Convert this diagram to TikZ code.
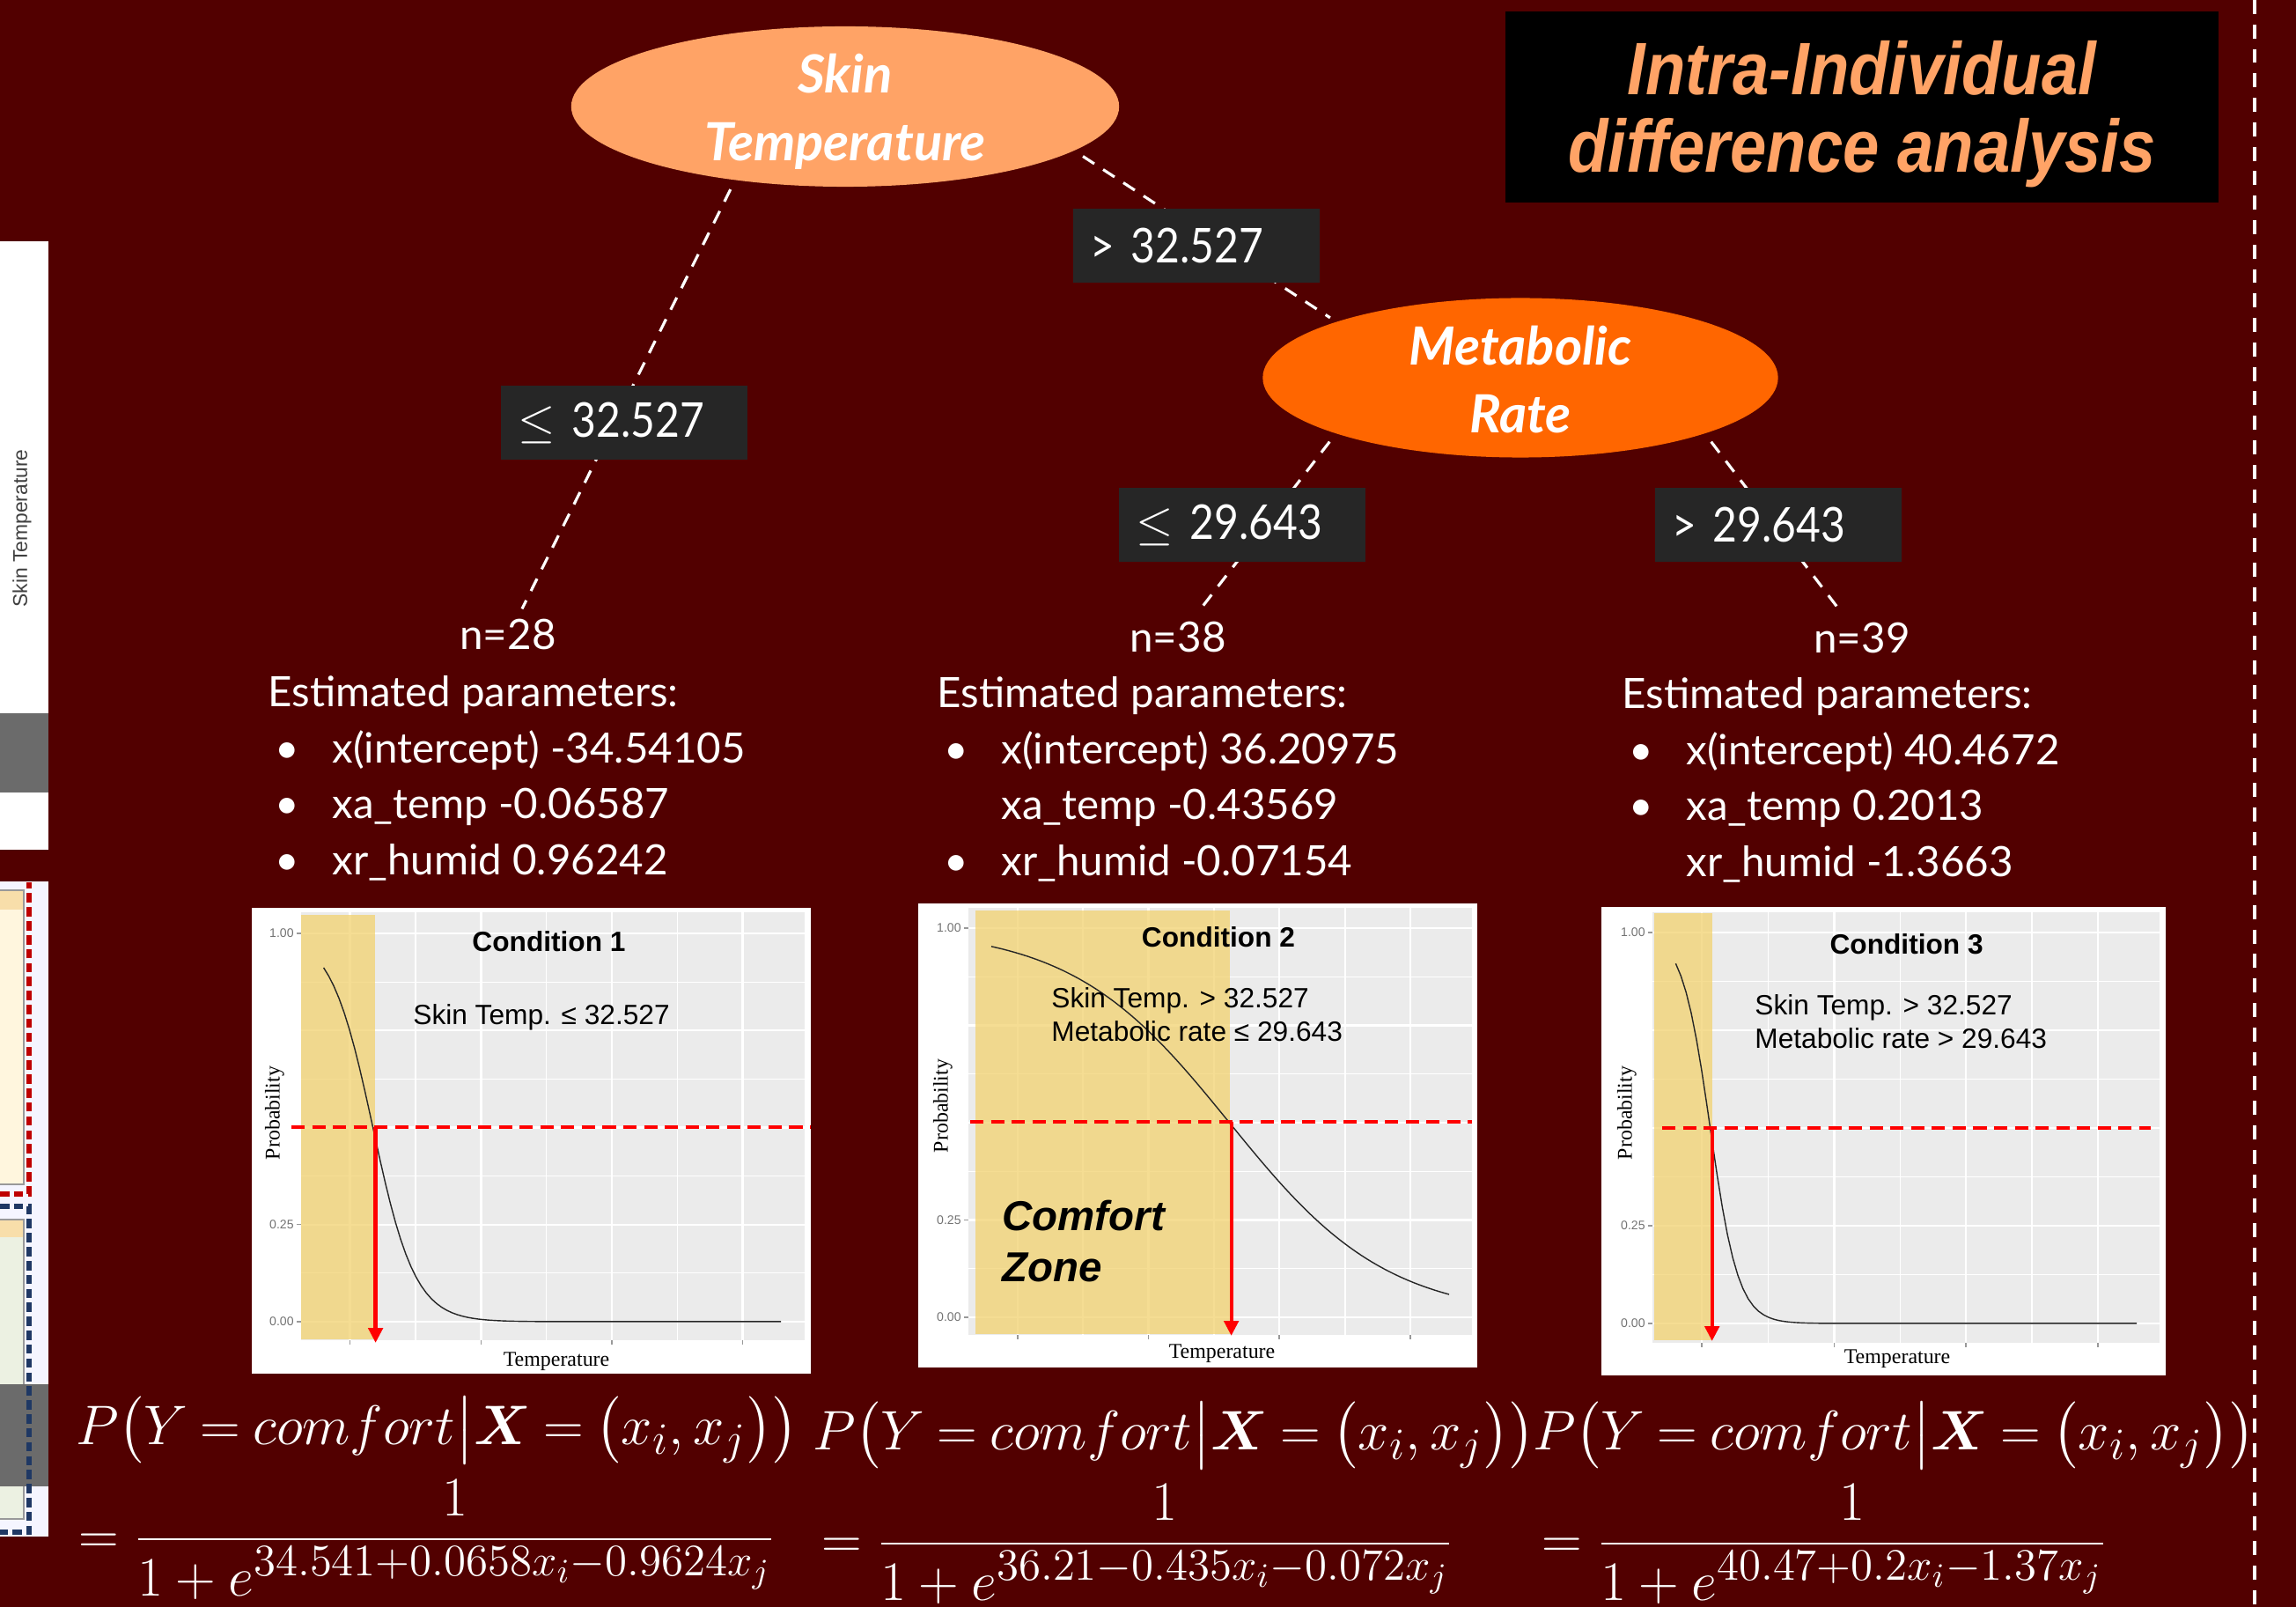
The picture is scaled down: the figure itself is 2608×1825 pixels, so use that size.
\RequirePackage{fix-cm}
\documentclass[tikz,border=0pt]{standalone}
\usepackage{amssymb,amsmath}
\usepackage[no-math]{fontspec}
\usepackage{tikz}
\usetikzlibrary{shapes.geometric}
\usetikzlibrary{arrows.meta}

\setmainfont{Lato}
\newfontfamily\cutfont[FakeStretch=0.88]{Lato}
\newfontfamily\titlefont[FakeStretch=0.88]{Liberation Sans}
\newfontfamily\chartfont{Liberation Sans}
\newfontfamily\axisfont{Liberation Serif}
\DeclareMathSizes{18}{18}{14.5}{11}

\definecolor{slidered}{RGB}{82,0,0}
\definecolor{skinorange}{RGB}{255,163,102}
\definecolor{metaborange}{RGB}{255,102,0}
\definecolor{cutgray}{RGB}{38,38,38}
\definecolor{panelgray}{RGB}{235,235,235}
\definecolor{zoneyellow}{RGB}{242,210,111}
\definecolor{cream}{RGB}{255,246,222}
\definecolor{tan}{RGB}{248,222,170}
\definecolor{sage}{RGB}{236,241,226}
\definecolor{navy}{RGB}{31,56,100}

\newcommand{\pbul}{\makebox[7.3mm][l]{\hspace{0.8mm}\textbullet}}
\newcommand{\pgap}{\makebox[7.3mm]{}}
\newcommand{\comfortprob}{$\thickmuskip=4mu P\bigl(Y = comfort\big|\boldsymbol{X} = \bigl(x_i, x_j\bigr)\bigr)$}

\begin{document}
\begin{tikzpicture}[x=0.01cm, y=-0.01cm, thick,
  split/.style={ellipse, inner sep=0pt},
  splittext/.style={text=white, align=center, font=\bfseries\itshape\fontsize{17}{22}\selectfont},
  cutbox/.style={rectangle, fill=cutgray, text=white, text width=24mm, align=left, inner xsep=2mm, minimum height=8.4mm, font=\cutfont\fontsize{15.5}{18}\selectfont},
  branch/.style={white, line width=0.9pt, dash pattern=on 4.4pt off 3.4pt, shorten <=3pt, shorten >=2pt},
  leaf/.style={text=white, inner sep=1pt, font=\fontsize{13.5}{16}\selectfont},
  params/.style={text=white, align=left, inner sep=0pt, anchor=north west, font=\fontsize{13.5}{18.1}\selectfont},
  gridmaj/.style={white, line width=0.7pt},
  gridmin/.style={white, line width=0.35pt},
  zone/.style={fill=zoneyellow, fill opacity=0.75},
  curve/.style={black!85, line width=0.4pt},
  cutoff/.style={red, line width=1.2pt, dash pattern=on 4.3pt off 2.4pt},
  drop/.style={red, line width=1.2pt, -{Triangle[width=4.6pt,length=4.8pt]}},
  cond/.style={font=\chartfont\bfseries\fontsize{9}{11}\selectfont},
  rule/.style={font=\chartfont\fontsize{9}{10.8}\selectfont, align=left, anchor=west, inner sep=0pt},
  comfort/.style={font=\chartfont\bfseries\itshape\fontsize{13.5}{16.5}\selectfont, align=left, anchor=west, inner sep=0pt},
  axislbl/.style={font=\axisfont\fontsize{6.8}{8}\selectfont, inner sep=0pt},
  ticklbl/.style={font=\chartfont\fontsize{4}{5}\selectfont, text=black!55, anchor=east, inner sep=0pt},
  tickmark/.style={black!40, line width=0.3pt},
  eqn/.style={text=white, inner sep=0pt, anchor=base west, font=\fontsize{18}{22}\selectfont},
]
\useasboundingbox (0,0) rectangle (2608,1825);
\fill[slidered] (0,0) rectangle (2608,1825);

% edge of the neighbouring slide
\fill[white] (0,274) rectangle (55,965);
\node[font=\chartfont\fontsize{6.5}{7}\selectfont, text=black!75, rotate=90, inner sep=0pt] (sideax) at (25,600) {Skin Temperature};
\fill[black!58] (0,810) rectangle (55,900);
\fill[white!96!blue] (0,1001) rectangle (55,1745);
\draw[black!40, fill=cream] (-2,1011) rectangle (27,1345);
\fill[tan] (-2,1012) rectangle (26,1033);
\draw[red!75!black, line width=1.6pt, dash pattern=on 3pt off 1.5pt] (0,1356) -- (33,1356) -- (33,1002);
\draw[black!40, fill=sage] (-2,1385) rectangle (27,1725);
\fill[tan] (-2,1386) rectangle (26,1405);
\fill[black!58] (0,1572) rectangle (55,1688);
\draw[navy, line width=1.6pt, dash pattern=on 3pt off 1.5pt] (0,1370) -- (33,1370) -- (33,1740) -- (0,1740);

% divider
\draw[white, line width=1pt, dash pattern=on 4.5pt off 3.4pt] (2561,0) -- (2561,1825);

% title
\node[fill=black, minimum width=81mm, minimum height=21.7mm, text=skinorange, align=center,
  font=\titlefont\bfseries\itshape\fontsize{24}{25}\selectfont] (title) at (2115,121.5) {\rule{0pt}{22pt}Intra-Individual\\difference analysis};

% tree
\node[split, fill=skinorange, minimum width=62.2mm, minimum height=18.2mm] (skin) at (960,121) {};
\node[splittext] (skinlbl) at (960,127) {Skin\\Temperature};
\node[split, fill=metaborange, minimum width=58.5mm, minimum height=18.1mm] (metab) at (1727,429) {};
\node[splittext] (metablbl) at (1727,431) {Metabolic\\Rate};

\node[leaf] (n28) at (577,720) {n=28};
\node[leaf] (n38) at (1338,723) {n=38};
\node[leaf] (n39) at (2115,724) {n=39};

\draw[branch] (skin.214) -- (n28.60);
\draw[branch] (skin.-11) -- (metab.163);
\draw[branch] (metab.197) -- (n38.50);
\draw[branch] (metab.-17) -- (n39.130);

\node[cutbox] (c1) at (1359,279) {> 32.527};
\node[cutbox] (c2) at (709,480) {$\leq$ 32.527};
\node[cutbox] (c3) at (1411,596) {$\leq$ 29.643};
\node[cutbox] (c4) at (2020,596) {> 29.643};

\node[params] (p28) at (303,766) {Estimated parameters:\\\pbul x(intercept) -34.54105\\\pbul xa\_temp -0.06587\\\pbul xr\_humid 0.96242};
\node[params] (p38) at (1063,767) {Estimated parameters:\\\pbul x(intercept) 36.20975\\\pgap xa\_temp -0.43569\\\pbul xr\_humid -0.07154};
\node[params] (p39) at (1841,768) {Estimated parameters:\\\pbul x(intercept) 40.4672\\\pbul xa\_temp 0.2013\\\pgap xr\_humid -1.3663};

% condition 1
\fill[white] (286,1031) rectangle (921,1560);
\fill[panelgray] (342,1036) rectangle (914,1522);
\foreach \v in {0.125,0.375,0.625,0.875} \draw[gridmin] (342,{1501-441*\v}) -- (914,{1501-441*\v});
\foreach \v in {0,0.25,0.5,0.75,1} \draw[gridmaj] (342,{1501-441*\v}) -- (914,{1501-441*\v});
\foreach \x in {472,620.6,769.6} \draw[gridmin] (\x,1036) -- (\x,1522);
\foreach \x in {397.5,546.5,695,843.7} {
  \draw[gridmaj] (\x,1036) -- (\x,1522);
  \draw[tickmark] (\x,1522) -- (\x,1527);
}
\foreach \v/\t [count=\i] in {0/0.00,0.25/0.25,1/1.00} {
  \draw[tickmark] (337,{1501-441*\v}) -- (342,{1501-441*\v});
  \node[ticklbl] (ya\i) at (335,{1501-441*\v}) {\t};
}
\fill[zone] (342,1039) rectangle (426,1521);
\draw[curve] plot[domain=367.6:887, samples=90] (\x,{1501-441/(1+exp(min((\x-423.6)/24,9)))});
\draw[cutoff] (331,1280) -- (921,1280);
\draw[drop] (426.6,1280) -- (426.6,1525);
\node[cond] (cond1) at (623.5,1069) {Condition 1};
\node[rule] (rule1) at (468,1155) {Skin Temp. ≤ 32.527};
\node[axislbl, rotate=90] (prob1) at (312,1264) {Probability};
\node[axislbl] (temp1) at (632,1546) {Temperature};

% condition 2
\fill[white] (1043,1026) rectangle (1678,1553);
\fill[panelgray] (1100,1031) rectangle (1672,1516);
\foreach \v in {0.125,0.375,0.625,0.875} \draw[gridmin] (1100,{1496-442*\v}) -- (1672,{1496-442*\v});
\foreach \v in {0,0.25,0.5,0.75,1} \draw[gridmaj] (1100,{1496-442*\v}) -- (1672,{1496-442*\v});
\foreach \x in {1230,1379,1528} \draw[gridmin] (\x,1031) -- (\x,1516);
\foreach \x in {1156,1304.5,1453,1602} {
  \draw[gridmaj] (\x,1031) -- (\x,1516);
  \draw[tickmark] (\x,1516) -- (\x,1521);
}
\foreach \v/\t [count=\i] in {0/0.00,0.25/0.25,1/1.00} {
  \draw[tickmark] (1095,{1496-442*\v}) -- (1100,{1496-442*\v});
  \node[ticklbl] (yb\i) at (1093,{1496-442*\v}) {\t};
}
\fill[zone] (1107.6,1034) rectangle (1396.5,1515);
\draw[curve] plot[domain=1126:1646, samples=90] (\x,{1496-442/(1+exp(min((\x-1396.5)/90,9)))});
\draw[cutoff] (1102,1274) -- (1672,1274);
\draw[drop] (1398.6,1274) -- (1398.6,1517);
\node[cond] (cond2) at (1384,1064) {Condition 2};
\node[rule] (rule2) at (1193,1152) {Skin Temp. > 32.527\\Metabolic rate ≤ 29.643};
\node[comfort] (zone2) at (1137,1410) {Comfort\\Zone};
\node[axislbl, rotate=90] (prob2) at (1071,1256) {Probability};
\node[axislbl] (temp2) at (1388,1537) {Temperature};

% condition 3
\fill[white] (1819,1030.5) rectangle (2460,1562);
\fill[panelgray] (1877,1036) rectangle (2453,1525);
\foreach \v in {0.125,0.375,0.625,0.875} \draw[gridmin] (1877,{1503-444*\v}) -- (2453,{1503-444*\v});
\foreach \v in {0,0.25,0.5,0.75,1} \draw[gridmaj] (1877,{1503-444*\v}) -- (2453,{1503-444*\v});
\foreach \x in {2008.6,2158.5,2308} \draw[gridmin] (\x,1036) -- (\x,1525);
\foreach \x in {1933,2083.6,2233,2383} {
  \draw[gridmaj] (\x,1036) -- (\x,1525);
  \draw[tickmark] (\x,1525) -- (\x,1530);
}
\foreach \v/\t [count=\i] in {0/0.00,0.25/0.25,1/1.00} {
  \draw[tickmark] (1872,{1503-444*\v}) -- (1877,{1503-444*\v});
  \node[ticklbl] (yc\i) at (1870,{1503-444*\v}) {\t};
}
\fill[zone] (1879,1037.5) rectangle (1945,1522);
\draw[curve] plot[domain=1903.4:2427, samples=90] (\x,{1503-444/(1+exp(min((\x-1942.6)/16,9)))});
\draw[cutoff] (1888,1281) -- (2443,1281);
\draw[drop] (1944.7,1281) -- (1944.7,1523);
\node[cond] (cond3) at (2165.6,1072) {Condition 3};
\node[rule] (rule3) at (1992,1160) {Skin Temp. > 32.527\\Metabolic rate > 29.643};
\node[axislbl, rotate=90] (prob3) at (1848,1264) {Probability};
\node[axislbl] (temp3) at (2155,1543) {Temperature};

% logistic models
\node[eqn] (eqa1) at (85,1640) {\comfortprob};
\node[eqn] (eqb1) at (88,1764) {$= \dfrac{1}{1 + e^{34.541+0.0658x_i-0.9624x_j}}$};
\node[eqn] (eqa2) at (922,1646) {\comfortprob};
\node[eqn] (eqb2) at (932,1769) {$= \dfrac{1}{1 + e^{36.21-0.435x_i-0.072x_j}}$};
\node[eqn] (eqa3) at (1740,1646) {\comfortprob};
\node[eqn] (eqb3) at (1750,1769) {$= \dfrac{1}{1 + e^{40.47+0.2x_i-1.37x_j}}$};
\end{tikzpicture}
\end{document}
